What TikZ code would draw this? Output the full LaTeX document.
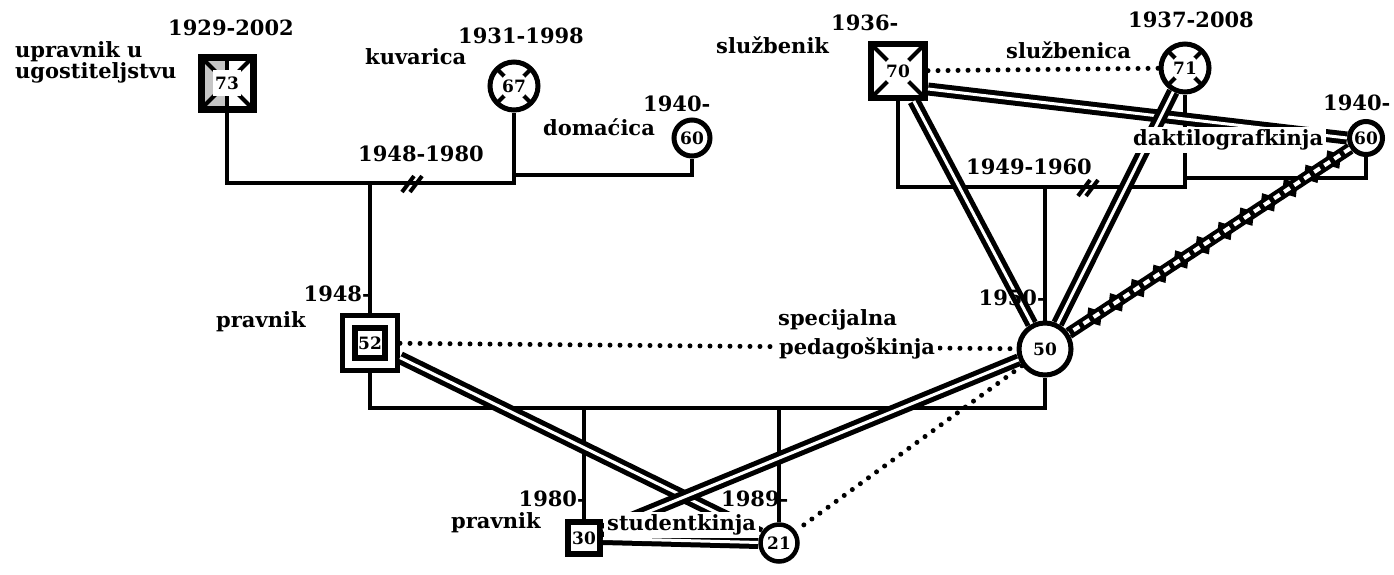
\documentclass[tikz,border=0pt]{standalone}
\usepackage{fontspec}
\setmainfont{DejaVu Serif}
\usetikzlibrary{positioning,decorations.markings}

\begin{document}
\begin{tikzpicture}[x=1pt,y=-1pt,
  every node/.style={font=\fontsize{21}{18}\selectfont\bfseries,inner sep=0pt},
  person/.style={draw,fill=white,inner sep=0pt,font=\fontsize{17}{19}\selectfont\bfseries},
  male/.style={person,rectangle,line width=6pt},
  female/.style={person,circle,line width=5pt},
  gone/.style={path picture={
    \draw[line width=4pt] (path picture bounding box.south west) -- (path picture bounding box.north east)
      (path picture bounding box.north west) -- (path picture bounding box.south east);
    \fill[white] (path picture bounding box.center) circle (#1);}},
  gone/.default=14pt,
  gonehalf/.style={path picture={
    \fill[gray!45] (path picture bounding box.south west) rectangle (path picture bounding box.north);
    \draw[line width=4pt] (path picture bounding box.north) -- (path picture bounding box.south);
    \draw[line width=4pt] (path picture bounding box.south west) -- (path picture bounding box.north east)
      (path picture bounding box.north west) -- (path picture bounding box.south east);
    \fill[white] ([shift={(-14pt,-13pt)}]path picture bounding box.center)
      rectangle ([shift={(14pt,13pt)}]path picture bounding box.center);}},
  twobox/.style={path picture={
    \draw[line width=6pt] ([shift={(-15pt,-15pt)}]path picture bounding box.center)
      rectangle ([shift={(15pt,15pt)}]path picture bounding box.center);}},
  tie/.style={line width=3.2pt},
  slash/.style={line width=4pt},
  close/.style={line width=5pt,double=white,double distance=3pt},
  apart/.style={line width=5pt,line cap=round,dash pattern=on 0pt off 10pt},
  hostile/.style={line width=12pt,
    postaction={decorate,decoration={markings,
      mark=between positions 0.06 and 0.96 step 26pt with {
        \fill (-5pt,5pt) -- (0pt,11pt) -- (5pt,5pt) -- cycle;
        \fill (-5pt,-5pt) -- (0pt,-11pt) -- (5pt,-5pt) -- cycle;}}},
    postaction={draw=white,line width=4pt,dash pattern=on 7pt off 5pt}},
  cover/.style={fill=white,inner sep=3pt}]

  \useasboundingbox (0,0) rectangle (1394,574);

  % people
  \node[male,gonehalf,minimum size=52pt,line width=7pt] (m73) at (227,83)  {73};
  \node[female,gone,minimum size=48pt] (f67) at (514,86) {67};
  \node[female,minimum size=36pt] (f60a) at (692,138) {60};
  \node[male,twobox,minimum size=55pt,line width=5pt] (m52) at (370,343) {52};
  \node[male,gone=15pt,minimum size=54pt] (m70) at (898,71) {70};
  \node[female,gone,minimum size=48pt] (f71) at (1185,68) {71};
  \node[female,minimum size=33pt] (f60b) at (1366,138) {60};
  \node[female,minimum size=52pt] (f50) at (1045,349) {50};
  \node[male,minimum size=32pt] (m30) at (584,538) {30};
  \node[female,minimum size=37pt,line width=4.5pt] (f21) at (779,543) {21};

  % family lines
  \coordinate (w1) at (514,183);
  \coordinate (w2) at (514,175);
  \coordinate (w3) at (1185,187);
  \coordinate (w4) at (1185,178);
  \coordinate (w5) at (1045,408);
  \draw[tie] (m73) |- (w1) -- (f67);
  \draw[tie] (w2) -| (f60a);
  \draw[tie] (m52 |- w1) -- (m52);
  \draw[slash] (402,192) -- (414,176) (410,192) -- (422,176);
  \draw[tie] (m70) |- (w3) -- (f71);
  \draw[tie] (w4) -| (f60b);
  \draw[tie] (f50 |- w3) -- (f50);
  \draw[slash] (1078,196) -- (1090,180) (1086,196) -- (1098,180);
  \draw[tie] (m52) |- (w5) -- (f50);
  \draw[tie] (m30 |- w5) -- (m30);
  \draw[tie] (f21 |- w5) -- (f21);

  % relations
  \path (m52) edge[close] (f21)
        (f50) edge[close] (m30)
        (m30) edge[close] (f21)
        ([yshift=-18pt]m70.east) edge[close] (f60b.west)
        (m70) edge[close] (f50)
        (f71) edge[close] (f50)
        (m52) edge[apart] (f50)
        (m70) edge[apart] (f71)
        (f50) edge[apart] (f21);
  \draw[hostile] (f60b) -- (f50);

  % labels
  \node[anchor=west] at (168,28) {1929-2002};
  \node[anchor=north west,align=left] at (15,41) {upravnik u\\[0pt]ugostiteljstvu};
  \node[anchor=west] at (458,36) {1931-1998};
  \node[anchor=west] at (365,57) {kuvarica};
  \node[anchor=west] at (643,104) {1940-};
  \node[anchor=west] at (543,127) {domaćica};
  \node[anchor=west] at (358,154) {1948-1980};
  \node[anchor=east] at (371,294) {1948-};
  \node[anchor=west] at (216,322) {pravnik};
  \node[anchor=west] at (831,23) {1936-};
  \node[anchor=west] at (716,45) {službenik};
  \node[anchor=west] at (1006,50) {službenica};
  \node[anchor=west] at (1128,20) {1937-2008};
  \node[anchor=west] at (966,167) {1949-1960};
  \node[anchor=west] at (1323,103) {1940-};
  \node[cover,anchor=west] at (1130,140) {daktilografkinja\hspace{8pt}};
  \node[anchor=east] at (1046,298) {1950-};
  \node[anchor=west] at (778,320) {specijalna};
  \node[cover,anchor=west] at (776,348) {pedagoškinja};
  \node[anchor=east] at (586,499) {1980-};
  \node[anchor=west] at (451,523) {pravnik};
  \node[anchor=west] at (721,499) {1989-};
  \node[cover,anchor=west] at (604,525) {studentkinja};

\end{tikzpicture}
\end{document}
